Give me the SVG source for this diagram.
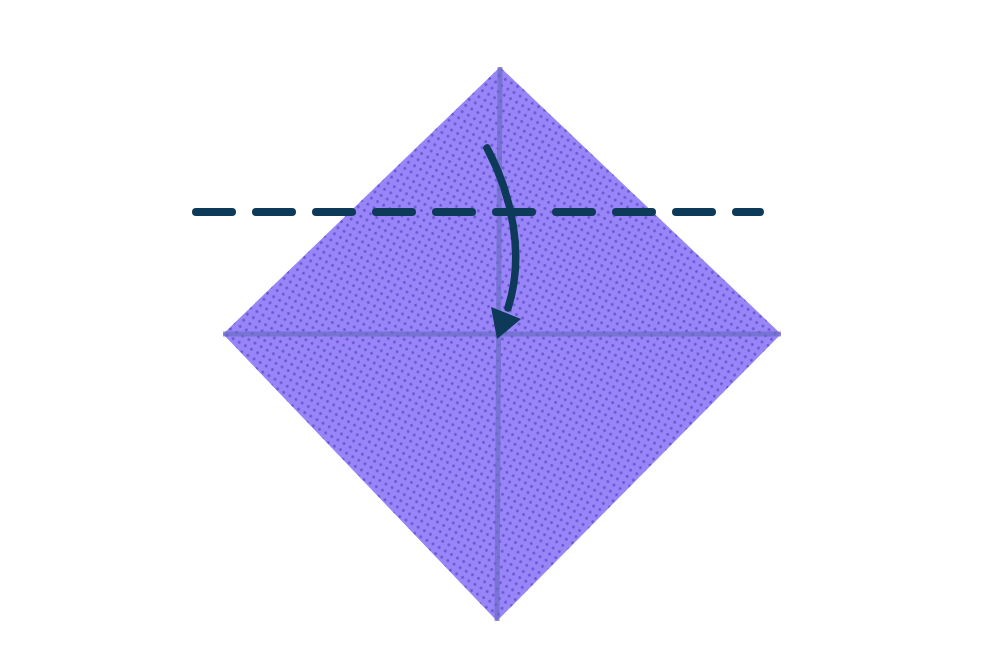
<svg xmlns="http://www.w3.org/2000/svg" width="1000" height="667" viewBox="0 0 1000 667">
  <defs>
    <pattern id="dots" width="10" height="10" patternUnits="userSpaceOnUse" patternTransform="rotate(-15)">
      <rect width="10" height="10" fill="#9886f9"/>
      <circle cx="2.5" cy="2.5" r="1.4" fill="#6b52d2"/>
      <circle cx="7.5" cy="7.5" r="1.4" fill="#6b52d2"/>
    </pattern>
    <style>
      .crease{stroke:#6a6cc4;stroke-width:5;opacity:0.7;fill:none}
      .dash{stroke:#0c3a58;stroke-width:8;stroke-linecap:round;stroke-dasharray:36 24;fill:none}
      .arrow{stroke:#0c3a58;stroke-width:7.5;stroke-linecap:round;fill:none}
    </style>
  </defs>
  <rect width="1000" height="667" fill="#ffffff"/>
  <g id="paper">
    <polygon points="500,67 781,334 497,621 223,334" fill="url(#dots)"/>
    <line class="crease" x1="223" y1="334" x2="781" y2="334"/>
    <line class="crease" x1="500" y1="67" x2="497" y2="621"/>
  </g>
  <g id="connectors">
    <line class="dash" x1="196" y1="212" x2="760" y2="212"/>
    <path class="arrow" d="M487,148 C512,195 525,255 508,308"/>
    <polygon points="491,307 521,319 497,339" fill="#0c3a58"/>
  </g>
</svg>
